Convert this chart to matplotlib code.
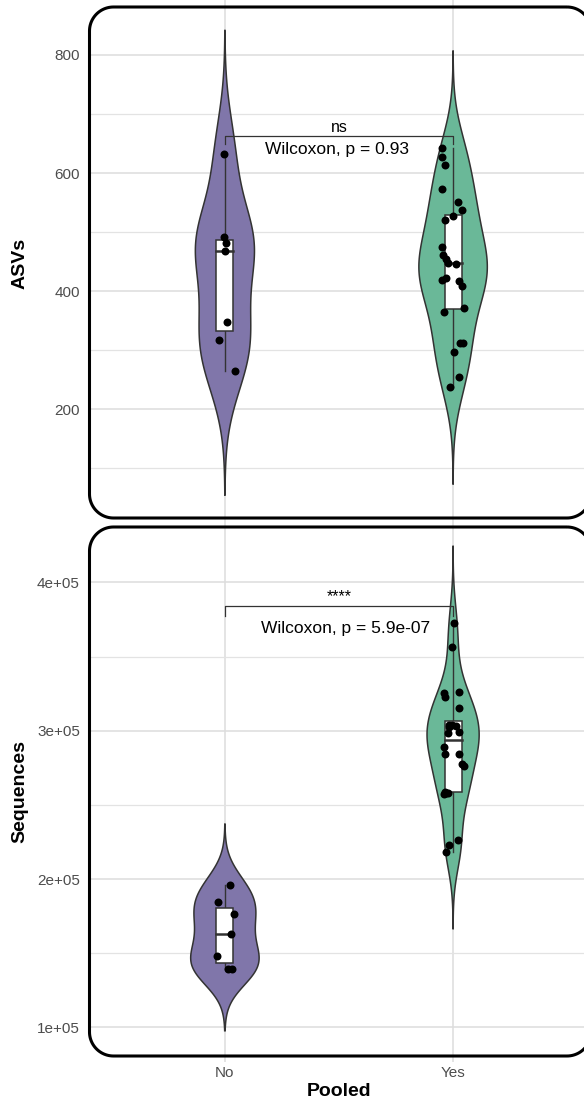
import numpy as np
import matplotlib
matplotlib.use("Agg")
import matplotlib.pyplot as plt
from matplotlib.patches import Polygon, Rectangle
from matplotlib.transforms import IdentityTransform
from matplotlib.ticker import FixedLocator

plt.rcParams['font.family'] = ['Liberation Sans', 'DejaVu Sans']

# ---------------- data ----------------
groups = ["No", "Yes"]
fill_colors = ["#8076AA", "#6AB898"]

asv_no = [632, 491, 481, 468, 347, 318, 264]
asv_no_jitter = [-0.006, -0.006, 0.004, 0.0, 0.011, -0.028, 0.045]
asv_yes = [643, 627, 613, 573, 551, 537, 527, 521, 475, 462, 455, 448, 446,
           422, 419, 417, 409, 371, 364, 313, 313, 297, 255, 237]
asv_yes_jitter = [-0.047, -0.050, -0.034, -0.047, 0.022, 0.038, -0.002, -0.035,
                  -0.047, -0.043, -0.032, -0.021, 0.013, -0.029, -0.047, 0.025,
                  0.039, 0.046, -0.038, 0.029, 0.044, 0.003, 0.028, -0.015]

seq_no = [195670, 184600, 176300, 163200, 147860, 139050, 139300]
seq_no_jitter = [0.022, -0.032, 0.040, 0.025, -0.036, 0.012, 0.029]
seq_yes = [372800, 356700, 326300, 325300, 322500, 315500, 304000, 303600,
           303000, 302400, 299000, 298200, 289300, 284500, 284000, 277500,
           276200, 258600, 258100, 257700, 257300, 226400, 223100, 218100]
seq_yes_jitter = [0.006, -0.003, 0.026, -0.041, -0.034, 0.026, -0.016, -0.003,
                  0.014, -0.016, 0.025, -0.021, -0.040, 0.025, -0.037, 0.041,
                  0.048, -0.034, -0.029, -0.024, -0.038, 0.022, -0.016, -0.031]

asv_ticks = [200, 400, 600, 800]
asv_minor = [100, 300, 500, 700]
seq_ticks = [100000, 200000, 300000, 400000]
seq_tick_labels = ["1e+05", "2e+05", "3e+05", "4e+05"]
seq_minor = [150000, 250000, 350000]

asv_sig, asv_p = "ns", "Wilcoxon, p = 0.93"
seq_sig, seq_p = "****", "Wilcoxon, p = 5.9e-07"

# ---------------- helpers ----------------
W, H = 584, 1106
fig = plt.figure(figsize=(W / 100, H / 100), dpi=100)
fig.patch.set_facecolor("white")


def ax_rect(x0, y0, x1, y1):
    return [x0 / W, 1 - y1 / H, (x1 - x0) / W, (y1 - y0) / H]


def nrd0(x):
    sd = x.std(ddof=1)
    q1, q3 = np.percentile(x, [25, 75])
    lo = min(sd, (q3 - q1) / 1.34)
    return 0.9 * lo * len(x) ** -0.2


def kde(x):
    x = np.asarray(x, float)
    bw = nrd0(x)
    grid = np.linspace(x.min() - 3 * bw, x.max() + 3 * bw, 512)
    d = np.exp(-0.5 * ((grid[:, None] - x[None, :]) / bw) ** 2).sum(1)
    d /= len(x) * bw * np.sqrt(2 * np.pi)
    return grid, d


EDGE = "#333333"


def panel(ax, data, jitters, width=0.3, boxw=0.075):
    kdes = [kde(d) for d in data]
    dmax = max(k[1].max() for k in kdes)
    for i, ((g, d), vals, jit) in enumerate(zip(kdes, data, jitters)):
        hw = d / dmax * width / 2
        xs = np.concatenate([i - hw, (i + hw)[::-1]])
        ys = np.concatenate([g, g[::-1]])
        ax.fill(xs, ys, facecolor=fill_colors[i], edgecolor=EDGE, lw=1.1, zorder=2)
        v = np.asarray(vals, float)
        q1, med, q3 = np.percentile(v, [25, 50, 75])
        iqr = q3 - q1
        lo = v[v >= q1 - 1.5 * iqr].min()
        hi = v[v <= q3 + 1.5 * iqr].max()
        ax.plot([i, i], [q3, hi], color=EDGE, lw=1.0, zorder=3)
        ax.plot([i, i], [lo, q1], color=EDGE, lw=1.0, zorder=3)
        ax.add_patch(Rectangle((i - boxw / 2, q1), boxw, q3 - q1, facecolor="white",
                               edgecolor=EDGE, lw=1.1, zorder=3))
        ax.plot([i - boxw / 2, i + boxw / 2], [med, med], color=EDGE, lw=1.8, zorder=4)
        ax.scatter(i + np.asarray(jit), v, s=33, color="black", lw=0, zorder=5)


def style(ax, ticks, minor, labels=None):
    ax.set_xlim(-0.6, 1.6)
    ax.patch.set_visible(False)
    for s in ax.spines.values():
        s.set_visible(False)
    ax.set_axisbelow(True)
    ax.set_xticks([0, 1])
    ax.set_yticks(ticks)
    if labels is not None:
        ax.set_yticklabels(labels)
    ax.yaxis.set_minor_locator(FixedLocator(minor))
    ax.grid(True, which="major", color="#DDDDDD", lw=1.1)
    ax.grid(True, which="minor", axis="y", color="#E3E3E3", lw=0.9)
    ax.tick_params(which="both", length=0)
    ax.tick_params(axis="y", labelsize=11, labelcolor="#4D4D4D", pad=5.8)
    ax.tick_params(axis="x", labelsize=11, labelcolor="#4D4D4D", pad=3)


def bracket(ax, y_bar, y_leg, sig, ptxt, p_x, p_y, off):
    ax.plot([0, 0, 1, 1], [y_leg, y_bar, y_bar, y_leg], color=EDGE, lw=0.9, zorder=6)
    ax.text(0.5, y_bar + off, sig, ha="center", va="bottom", fontsize=11.5, zorder=7)
    ax.text(p_x, p_y, ptxt, ha="center", va="baseline", fontsize=12.5, zorder=7)


def rounded_outline(x0, y0, x1, y1, r, n=24):
    # image-pixel box (top origin) -> display coords (bottom origin)
    t = np.linspace(0, np.pi / 2, n)
    pts = []
    # top-right corner
    cx, cy = x1 - r, y0 + r
    pts += list(zip(cx + r * np.sin(t), cy - r * np.cos(t)))
    # bottom-right
    cx, cy = x1 - r, y1 - r
    pts += list(zip(cx + r * np.cos(t), cy + r * np.sin(t)))
    # bottom-left
    cx, cy = x0 + r, y1 - r
    pts += list(zip(cx - r * np.sin(t), cy + r * np.cos(t)))
    # top-left
    cx, cy = x0 + r, y0 + r
    pts += list(zip(cx - r * np.cos(t), cy - r * np.sin(t)))
    pts = np.array(pts)
    pts[:, 1] = H - pts[:, 1]
    return Polygon(pts, closed=True, fill=False, edgecolor="black", lw=2.2,
                   transform=IdentityTransform(), zorder=10)


# ---------------- top panel ----------------
ax1 = fig.add_axes(ax_rect(88, 0, 590, 522))
ax1.set_ylim(9.1, 893.1)
style(ax1, asv_ticks, asv_minor)
ax1.set_xticklabels([])
panel(ax1, [asv_no, asv_yes], [asv_no_jitter, asv_yes_jitter])
bracket(ax1, 663, 650, asv_sig, asv_p, 0.49, 632.3, 1)

# ---------------- bottom panel ----------------
ax2 = fig.add_axes(ax_rect(88, 522, 590, 1062))
ax2.set_ylim(76600, 440800)
style(ax2, seq_ticks, seq_minor, seq_tick_labels)
ax2.set_xticklabels(groups)
panel(ax2, [seq_no, seq_yes], [seq_no_jitter, seq_yes_jitter])
bracket(ax2, 384400, 377500, seq_sig, seq_p, 0.529, 365900, 1000)

# ---------------- rounded borders ----------------
for box in [(89.5, 7, 591, 518), (89.5, 527, 591, 1056)]:
    fig.add_artist(rounded_outline(*box, r=24))

# ---------------- axis titles ----------------
fig.text(20 / W, 1 - 263 / H, "ASVs", rotation=90, ha="center", va="center",
         fontsize=14, fontweight="bold")
fig.text(20 / W, 1 - 791.5 / H, "Sequences", rotation=90, ha="center", va="center",
         fontsize=14, fontweight="bold")
fig.text(339 / W, 1 - 1091 / H, "Pooled", ha="center", va="center",
         fontsize=14, fontweight="bold")

fig.savefig("out.png", dpi=100, facecolor="white")
